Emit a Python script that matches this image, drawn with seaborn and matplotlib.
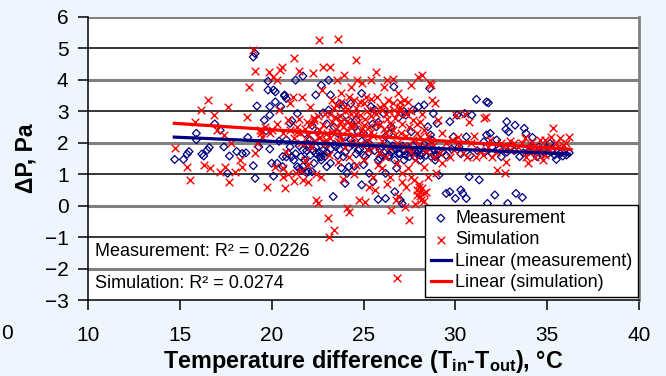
import pandas as pd
import matplotlib.pyplot as plt
import seaborn as sns

# measurement points (temperature difference, pressure difference)
meas_x = [14.72, 15.2, 15.4, 15.5, 15.9, 15.9, 16.2, 16.3, 16.5, 16.6, 16.9, 17.2, 17.4, 17.6, 17.7,
          18.1, 18.4, 18.6, 18.7, 19.0, 19.0, 19.1, 19.1, 19.2, 19.3, 19.6, 19.7, 19.8, 19.8, 19.9,
          19.9, 20.0, 20.1, 20.1, 20.2, 20.2, 20.3, 20.5, 20.6, 20.6, 20.7, 20.7, 20.8, 20.8, 20.9,
          21.0, 21.0, 21.1, 21.2, 21.3, 21.4, 21.4, 21.5, 21.6, 21.7, 21.7, 21.8, 21.8, 22.0, 22.0,
          22.1, 22.2, 22.3, 22.4, 22.4, 22.5, 22.6, 22.7, 22.7, 22.8, 22.9, 23.0, 23.1, 23.1, 23.2,
          23.2, 23.35, 23.5, 23.6, 23.7, 23.8, 23.9, 24.0, 24.0, 24.1, 24.2, 24.2, 24.3, 24.5, 24.6,
          24.7, 24.9, 24.9, 25.0, 25.1, 25.3, 25.3, 25.4, 25.5, 25.7, 25.8, 25.8, 26.0, 26.1, 26.2,
          26.2, 26.35, 26.5, 26.6, 26.65, 26.7, 26.8, 26.9, 27.0, 27.1, 27.2, 27.3, 27.4, 27.5, 27.6,
          27.7, 27.9, 28.0, 28.1, 28.2, 28.3, 28.5, 28.6, 28.65, 28.7, 28.8, 28.9, 29.0, 29.1, 29.5,
          29.7, 29.7, 29.9, 30.0, 30.1, 30.2, 30.3, 30.4, 30.5, 30.6, 30.6, 30.75, 30.9, 31.15, 31.3,
          31.55, 31.7, 31.7, 31.8, 31.75, 31.9, 32.0, 32.15, 32.25, 32.5, 32.75, 32.8, 32.85, 32.9, 33.05,
          33.25, 33.3, 33.5, 33.65, 33.75, 33.85, 34.1, 34.2, 34.35, 34.45, 34.55, 34.8, 34.9, 35.05, 35.15,
          35.25, 35.4, 35.5, 35.6, 35.7, 35.85, 35.95, 36.05, 36.2,
          26.5, 26.8, 27.0, 27.2, 27.3, 27.5, 27.6, 27.8, 28.0, 28.2, 28.4, 28.6, 28.8, 29.0, 27.1,
          26.3, 26.0, 25.6, 25.2, 24.8, 24.4, 24.0, 23.6, 23.2, 22.9, 22.6, 22.4, 22.1, 21.9, 21.5,
          21.3, 25.9, 26.7, 27.7, 28.3, 28.9, 29.3, 29.8, 30.3, 30.8, 31.2, 31.6, 32.0, 32.4, 32.8,
          33.2, 33.7, 34.0, 34.7, 35.3, 35.8, 23.0, 23.4, 24.7, 25.5, 26.2, 22.2, 21.1, 20.4, 24.5,
          25.0, 23.8, 21.7, 21.9, 19.9, 20.8, 22.8, 23.9, 25.6, 24.3, 25.8, 27.2, 26.9,
          25.9, 26.1, 26.4, 26.6, 27.0, 27.4, 27.8, 28.1, 28.5, 28.7, 29.1, 29.5, 24.2, 24.6, 23.4,
          23.0, 22.7, 22.3, 21.6, 22.0, 25.3, 25.0, 23.7, 24.9, 26.4]
meas_y = [1.47, 1.47, 1.64, 1.72, 2.1, 2.3, 1.64, 1.58, 1.77, 1.85, 2.6, 2.4, 1.87, 1.03, 1.58,
          1.72, 1.66, 1.68, 2.17, 1.27, 4.73, 4.84, 0.87, 3.17, 1.87, 2.72, 2.38, 3.96, 3.68, 2.88,
          3.15, 1.35, 3.68, 0.94, 3.62, 3.3, 1.35, 3.15, 1.56, 1.24, 3.52, 3.49, 3.41, 2.09, 1.66,
          2.62, 1.87, 1.56, 1.45, 3.99, 2.93, 1.24, 1.19, 1.13, 4.12, 1.77, 2.3, 1.45, 1.08, 1.87,
          2.09, 1.08, 1.35, 3.52, 1.66, 2.35, 1.56, 3.83, 1.45, 1.77, 1.56, 1.24, 3.99, 3.04, 3.52,
          1.35, 0.29, 1.87, 2.3, 3.25, 2.78, 1.56, 2.19, 0.71, 1.03, 2.72, 1.24, 2.09, 2.51, 2.72,
          1.77, 3.57, 0.66, 2.3, 1.56, 1.03, 1.98, 3.15, 0.76, 2.51, 0.2, 1.45, 1.87, 2.93, 1.03,
          0.23, 1.56, 2.51, 1.77, 3.78, 0.44, 1.19, 1.66, 0.18, 0.07, 1.45, 2.88, 1.87, 1.56, 2.35,
          3.04, 1.66, 3.15, 1.45, 1.66, 3.2, 2.51, 3.73, 2.25, 2.09, 2.93, 1.56, 2.62, 0.97, 0.39,
          0.44, 2.67, 2.19, 0.23, 2.88, 1.87, 0.5, 0.39, 2.93, 2.19, 0.23, 0.92, 2.88, 3.38, 0.82,
          2.03, 2.25, 3.3, 3.27, 0.07, 2.3, 1.87, 0.34, 2.09, 1.56, 2.43, 2.67, 0.07, 2.35, 1.87,
          2.56, 0.39, 1.56, 0.26, 2.46, 2.3, 1.87, 2.17, 1.66, 1.56, 1.87, 1.72, 1.82, 1.66, 1.98,
          1.72, 1.61, 1.47, 1.72, 1.66, 1.58, 1.77, 1.61, 1.68,
          1.7, 1.8, 1.65, 1.75, 1.6, 1.8, 1.7, 1.55, 1.75, 1.85, 1.6, 1.7, 1.8, 1.6, 1.9,
          1.95, 1.6, 1.75, 1.9, 1.8, 1.95, 1.7, 1.6, 1.8, 1.95, 1.7, 1.85, 1.6, 1.75, 1.9,
          1.65, 1.5, 1.45, 1.9, 1.95, 1.45, 1.7, 1.8, 1.65, 1.6, 1.75, 1.7, 1.65, 1.8, 1.7,
          1.75, 1.68, 1.72, 1.62, 1.8, 1.7, 2.6, 2.5, 2.35, 2.6, 2.2, 2.55, 2.7, 2.05, 1.25,
          1.3, 1.2, 1.25, 1.05, 1.8, 1.55, 2.95, 3.2, 3.05, 3.25, 2.65, 3.0, 2.8,
          1.8, 1.7, 1.6, 1.9, 1.85, 1.7, 1.75, 1.6, 1.85, 1.55, 1.75, 1.6, 1.85, 1.65, 1.95,
          1.7, 1.55, 1.75, 1.55, 1.95, 1.7, 1.6, 1.8, 2.05, 2.3]

# simulation points
sim_x = [14.72, 15.37, 15.53, 15.83, 16.13, 16.3, 16.52, 16.64, 16.87, 17.0, 17.2, 17.4, 17.45, 17.6, 17.7,
         17.8, 18.0, 18.25, 18.4, 18.65, 18.77, 19.0, 19.07, 19.07, 19.2, 19.35, 19.5, 19.65, 19.76, 19.83,
         20.0, 20.1, 20.2, 20.27, 20.4, 20.45, 20.57, 20.64, 20.73, 20.8, 20.9, 21.0, 21.15, 21.22, 21.33,
         21.38, 21.5, 21.57, 21.65, 21.73, 21.8, 21.9, 21.96, 22.08, 22.15, 22.24, 22.3, 22.42, 22.5, 22.58,
         22.65, 22.72, 22.82, 22.88, 22.95, 23.05, 23.1, 23.2, 23.28, 23.37, 23.46, 23.53, 23.62, 23.7, 23.76,
         23.83, 23.93, 24.0, 24.1, 24.15, 24.23, 24.32, 24.39, 24.5, 24.57, 24.67, 24.73, 24.8, 24.9, 24.99,
         25.08, 25.15, 25.22, 25.3, 25.43, 25.5, 25.6, 25.66, 25.73, 25.82, 25.9, 26.0, 26.12, 26.2, 26.28,
         26.35, 26.42, 26.5, 26.6, 26.65, 26.75, 26.82, 26.88, 26.98, 27.05, 27.12, 27.2, 27.28, 27.4, 27.46,
         27.58, 27.67, 27.74, 27.8, 27.9, 27.97, 28.04, 28.1, 28.14, 28.2, 28.27, 28.32, 28.4, 28.5, 28.6,
         28.67, 28.74, 28.83, 28.9, 28.97, 29.06, 29.15, 29.25, 29.48, 29.7, 29.9, 30.05, 30.17, 30.4, 30.5,
         30.63, 30.75, 30.87, 31.1, 31.33, 31.57, 31.68, 31.8, 32.0, 32.25, 32.5, 32.73, 32.77, 32.95, 33.18,
         33.4, 33.64, 33.87, 33.98, 34.1, 34.2, 34.33, 34.45, 34.56, 34.75, 34.9, 35.0, 35.2, 35.3, 35.5,
         35.7, 35.84, 36.2,
         22.2, 22.5, 22.8, 23.0, 23.3, 23.5, 23.7, 23.9, 24.1, 24.3, 24.5, 24.7, 24.9, 25.1, 25.3,
         25.5, 25.7, 25.9, 26.1, 26.3, 26.5, 26.7, 26.9, 27.1, 27.3, 27.5, 27.7, 27.9, 28.1, 28.3,
         28.5, 28.7, 21.0, 21.2, 21.4, 21.6, 21.8, 22.0, 22.3, 22.6, 22.9, 23.2, 23.6, 24.0, 24.4,
         24.8, 25.2, 25.6, 26.0, 26.4, 26.8, 27.2, 27.6, 28.0, 28.4, 28.8, 23.4, 23.8, 24.2, 24.6,
         25.0, 25.4, 26.0, 26.6, 27.0, 27.4, 23.1, 23.6, 24.2, 24.6, 25.0, 25.8, 26.2, 26.8, 27.4,
         22.0, 21.6, 20.6, 20.9, 21.2, 22.4, 22.7, 27.9, 28.0, 28.1, 28.2, 28.3, 28.4, 27.8, 28.05,
         27.6, 27.3, 27.1, 26.9, 26.3, 25.5, 24.5, 23.9, 29.3, 29.8, 30.2, 31.0, 31.5, 32.2, 33.0,
         33.8, 34.6, 35.1, 35.6, 36.0, 34.0, 34.9, 32.6, 31.9,
         23.2, 23.5, 23.8, 24.0, 24.3, 24.6, 24.8, 25.2, 25.4, 25.7, 26.1, 26.4, 26.7, 27.0, 27.3,
         27.6, 27.9, 28.2, 23.3, 23.7, 24.1, 24.5, 25.0, 25.4, 26.2, 26.6, 22.6, 22.3, 21.9, 21.5,
         20.6, 20.3, 19.9, 19.4]
sim_y = [1.82, 1.24, 0.82, 2.67, 3.04, 1.29, 3.36, 1.19, 2.88, 2.4, 1.08, 2.25, 1.24, 3.15, 0.76,
         1.98, 1.08, 1.45, 1.24, 2.81, 3.76, 4.95, 4.29, 1.66, 1.98, 2.4, 2.19, 2.51, 0.6, 4.26,
         2.4, 4.1, 1.24, 3.99, 3.04, 4.31, 4.42, 0.92, 0.55, 1.72, 2.72, 3.25, 3.46, 4.71, 1.03,
         2.51, 4.29, 2.3, 3.46, 0.82, 1.45, 1.98, 0.76, 3.15, 1.87, 4.23, 2.72, 0.18, 0.07, 5.26,
         2.19, 3.68, 4.42, 2.93, 2.09, -0.4, -0.99, 4.42, 3.36, -0.77, 2.83, 3.99, 5.3, 2.62, 3.57,
         2.09, 4.15, 3.15, -0.08, 3.04, -0.19, 3.78, 2.51, 3.36, 4.63, 3.99, 0.18, 2.88, 3.89, 2.3,
         0.13, 3.46, 1.77, 0.6, 3.99, 3.04, 0.5, 4.26, 3.46, 1.66, 3.15, 1.19, 3.78, 2.93, 3.99,
         3.36, 0.92, -0.14, 4.04, 3.04, 0.18, -2.31, 3.57, 3.15, 2.3, 1.03, 3.36, -0.03, 1.87, -0.46,
         3.83, 2.72, 0.82, 1.45, 0.34, 4.1, 0.6, 2.19, 0.18, 4.15, 1.24, 0.39, 1.87, 0.92, 3.89,
         3.83, 3.36, 1.56, 3.25, 1.03, 2.72, 1.66, 1.35, 1.98, 1.56, 1.77, 2.88, 2.19, 1.66, 2.93,
         1.56, 2.67, 1.98, 1.56, 1.77, 2.78, 2.81, 1.87, 1.56, 1.13, 1.98, 1.03, 1.4, 1.77, 1.98,
         1.87, 1.98, 1.56, 1.35, 1.87, 2.03, 1.56, 1.87, 1.72, 1.45, 2.09, 1.87, 2.19, 2.46, 1.98,
         2.14, 1.93, 2.19,
         2.6, 2.85, 2.55, 2.3, 2.65, 2.45, 2.85, 2.5, 2.7, 2.9, 2.2, 2.65, 2.45, 2.75, 2.5,
         2.2, 2.9, 2.6, 2.45, 2.75, 2.55, 2.25, 2.95, 2.6, 2.2, 2.5, 2.1, 2.3, 2.65, 2.4,
         2.2, 2.05, 2.4, 2.15, 2.35, 2.0, 2.45, 2.25, 2.05, 2.15, 1.95, 2.15, 2.05, 1.85, 2.0,
         1.95, 2.1, 1.9, 2.05, 1.85, 2.0, 1.9, 1.7, 1.95, 1.75, 1.9, 3.1, 3.3, 3.45, 3.1,
         3.25, 2.85, 3.05, 3.25, 3.05, 3.3, 1.6, 1.4, 1.55, 1.3, 1.45, 1.3, 1.55, 1.35, 1.2,
         1.3, 1.1, 1.2, 1.0, 0.8, 1.0, 0.9, 0.5, 0.7, 0.3, 0.55, 0.15, 0.45, 0.05, 0.45,
         0.9, 0.6, 0.75, 0.3, 0.7, 0.9, 1.0, 0.85, 2.3, 2.1, 1.9, 2.2, 1.6, 1.7, 2.05,
         2.15, 2.1, 1.8, 1.85, 2.0, 1.7, 1.6, 1.9, 2.1,
         2.9, 3.2, 2.7, 3.0, 2.6, 2.9, 3.3, 3.0, 3.4, 2.6, 3.2, 3.0, 2.8, 3.3, 2.9,
         3.0, 2.6, 2.9, 2.35, 2.2, 2.4, 2.55, 2.55, 2.35, 2.3, 2.4, 2.4, 2.8, 2.65, 2.75,
         2.3, 2.6, 2.3, 2.3]

# linear trend lines (end points)
meas_fit_x = [14.7, 36.2]
meas_fit_y = [2.18, 1.64]
sim_fit_x = [14.7, 36.3]
sim_fit_y = [2.62, 1.79]

r2_labels = ["Measurement: R\u00b2 = 0.0226", "Simulation: R\u00b2 = 0.0274"]
x_ticks = [10, 15, 20, 25, 30, 35, 40]
y_ticks = [-3, -2, -1, 0, 1, 2, 3, 4, 5, 6]

meas = pd.DataFrame({"dT": meas_x, "dP": meas_y})
sim = pd.DataFrame({"dT": sim_x, "dP": sim_y})
meas_fit = pd.DataFrame({"dT": meas_fit_x, "dP": meas_fit_y})
sim_fit = pd.DataFrame({"dT": sim_fit_x, "dP": sim_fit_y})

plt.rcParams["font.family"] = ["Liberation Sans", "DejaVu Sans"]
plt.rcParams["mathtext.fontset"] = "custom"
plt.rcParams["mathtext.rm"] = "Liberation Sans"
plt.rcParams["mathtext.bf"] = "Liberation Sans:bold"

bg = "#EEF5FC"
navy = "#000080"
red = "#FF0000"

fig = plt.figure(figsize=(6.66, 3.76), dpi=100, facecolor=bg)
ax = fig.add_axes([0.1321, 0.2021, 0.8274, 0.7527])
ax.set_facecolor("white")

# alternating gridlines like the original (gray at even, black at odd)
for v in range(-2, 7):
    if v % 2 == 0:
        ax.axhline(v, color="#808080", lw=2.2, zorder=1)
    else:
        ax.axhline(v, color="black", lw=1.1, zorder=1)

sns.scatterplot(data=meas, x="dT", y="dP", marker="D", s=16, color=navy,
                facecolor="none", edgecolor=navy, linewidth=0.9, ax=ax, zorder=2,
                label="Measurement")
sns.scatterplot(data=sim, x="dT", y="dP", marker="x", s=30, color=red,
                linewidth=1.0, ax=ax, zorder=3, label="Simulation")
sns.lineplot(data=meas_fit, x="dT", y="dP", color=navy, lw=2.3, ax=ax, zorder=4,
             label="Linear (measurement)")
sns.lineplot(data=sim_fit, x="dT", y="dP", color=red, lw=2.3, ax=ax, zorder=4,
             label="Linear (simulation)")

ax.set_xlim(10, 40)
ax.set_ylim(-3, 6)
ax.set_xticks(x_ticks)
ax.set_yticks(y_ticks)
ax.tick_params(axis="x", direction="out", length=7, width=1.1, pad=12, labelsize=15)
ax.tick_params(axis="y", direction="out", length=7, width=1.1, pad=7, labelsize=15)

for side in ["left", "bottom"]:
    ax.spines[side].set_color("black")
    ax.spines[side].set_linewidth(1.1)
ax.spines["right"].set_color("#808080")
ax.spines["right"].set_linewidth(2)
ax.spines["top"].set_visible(False)

ax.set_xlabel("Temperature difference (T$_\\mathbf{in}$-T$_\\mathbf{out}$), \u00b0C",
              fontsize=16.8, fontweight="bold", labelpad=2)
ax.set_ylabel("\u0394P, Pa", fontsize=16.5, fontweight="bold", labelpad=5)

ax.text(10.38, -1.45, r2_labels[0], fontsize=13, va="center", ha="left", zorder=5)
ax.text(10.38, -2.47, r2_labels[1], fontsize=13, va="center", ha="left", zorder=5)

leg = ax.legend(loc="lower right", bbox_to_anchor=(0.998, 0.011), borderaxespad=0,
                fontsize=13, frameon=True, fancybox=False, edgecolor="black",
                framealpha=1, labelspacing=0.25, handlelength=1.1, handletextpad=0.25,
                borderpad=0.3, markerscale=1.0)
leg.get_frame().set_linewidth(1.0)
leg.set_zorder(6)

# tick label of the neighbouring chart showing at the left edge
fig.text(0.001, 0.113, "0", fontsize=15, ha="left", va="center")

fig.savefig("out.png", dpi=100, facecolor=bg)
